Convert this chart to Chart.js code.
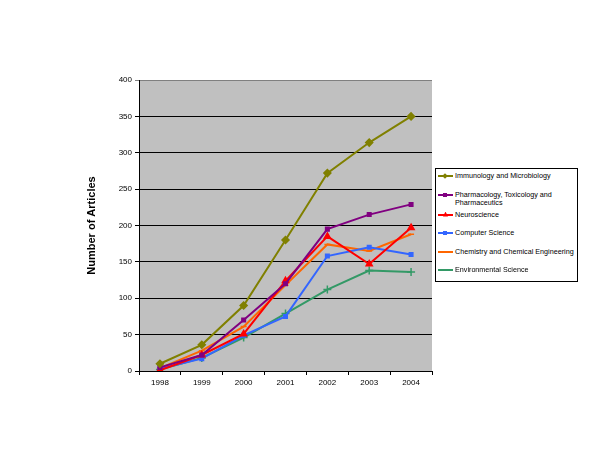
<!DOCTYPE html>
<html>
<head>
<meta charset="utf-8">
<script src="https://cdn.jsdelivr.net/npm/chart.js@4/dist/chart.umd.min.js"></script>
<style>
  body { margin: 0; background: #fff; }
  #wrap { position: relative; width: 600px; height: 450px; }
  #legend {
    position: absolute; left: 435px; top: 168px; width: 143px; height: 114px;
    border: 1px solid #000; background: #fff; box-sizing: border-box;
    font-family: Arial, "Liberation Sans", sans-serif; font-size: 7.2px; color: #000;
    padding-top: 3px;
  }
  .item { position: relative; padding-left: 19px; min-height: 18.5px; line-height: 8.5px; white-space: nowrap; }
  .item.wrap { white-space: normal; }
  .sample { position: absolute; left: 2px; top: 3px; width: 15px; height: 2px; }
  .mark { position: absolute; left: 5px; top: -2px; width: 5px; height: 5px; }
</style>
</head>
<body>
<div id="wrap">
  <canvas id="c" width="600" height="450"></canvas>
  <div id="legend"></div>
</div>
<script>
const years = ["1998", "1999", "2000", "2001", "2002", "2003", "2004"];

const immunology    = [10, 36, 90, 180, 272, 314, 350];
const pharmacology  = [5, 22, 70, 120, 195, 215, 229];
const neuroscience  = [1, 22, 51, 124, 185, 147, 197];
const computerSci   = [3, 17, 49, 75, 158, 170, 160];
const chemistry     = [4, 28, 61, 118, 174, 165, 188];
const environmental = [2, 18, 46, 79, 112, 138, 136];

const seriesNames = [
  "Immunology and Microbiology",
  "Pharmacology, Toxicology and Pharmaceutics",
  "Neuroscience",
  "Computer Science",
  "Chemistry and Chemical Engineering",
  "Environmental Science"
];
const seriesData = [immunology, pharmacology, neuroscience, computerSci, chemistry, environmental];
const colors = ["#808000", "#800080", "#FF0000", "#3366FF", "#FF6600", "#339966"];
const markers = ["rectRot", "rect", "triangle", "rect", "line", "cross"];
const markerSize = [3.5, 2.5, 3.5, 2.5, 3, 4];

const yTicks = [0, 50, 100, 150, 200, 250, 300, 350, 400];

const plotBg = {
  id: "plotBg",
  beforeDraw(chart) {
    const a = chart.chartArea, ctx = chart.ctx;
    ctx.save();
    ctx.fillStyle = "#C0C0C0";
    ctx.fillRect(a.left, a.top, a.right - a.left, a.bottom - a.top);
    ctx.restore();
  }
};

const font = { family: "Arial, 'Liberation Sans', sans-serif", size: 8 };

new Chart(document.getElementById("c"), {
  type: "line",
  data: {
    labels: years,
    datasets: seriesNames.map((name, i) => ({
      label: name,
      data: seriesData[i],
      borderColor: colors[i],
      backgroundColor: colors[i],
      borderWidth: 2,
      pointStyle: markers[i],
      pointRadius: markerSize[i],
      pointBorderWidth: 1.5,
      fill: false,
      tension: 0
    }))
  },
  options: {
    responsive: false,
    animation: false,
    layout: { padding: { left: 81, right: 168, top: 80, bottom: 0 } },
    plugins: { legend: { display: false }, tooltip: { enabled: false } },
    scales: {
      x: {
        offset: true,
        grid: { offset: true, drawOnChartArea: false, drawTicks: true, tickLength: 4, color: "#000" },
        border: { color: "#000", width: 1 },
        ticks: { color: "#000", font: font, padding: 3, maxRotation: 0 },
        afterFit(s) { s.height = 79; }
      },
      y: {
        min: 0, max: 400,
        afterBuildTicks(s) { s.ticks = yTicks.map(v => ({ value: v })); },
        grid: {
          color: ctx => ctx.tick && ctx.tick.value === 400 ? "#808080" : "#000",
          lineWidth: 1, tickLength: 4
        },
        border: { color: "#000", width: 1 },
        ticks: { color: "#000", font: font, padding: 3 },
        title: {
          display: true, text: "Number of Articles", color: "#000",
          font: { family: font.family, size: 11, weight: "bold" }, padding: 4
        },
        afterFit(s) { s.width = 58; }
      }
    }
  },
  plugins: [plotBg]
});

// HTML legend (wrapping text like the original)
const leg = document.getElementById("legend");
const markShape = {
  rectRot: "transform: rotate(45deg); width:4px; height:4px; top:-1px;",
  rect: "width:4px; height:4px; top:-1px;",
  triangle: "clip-path: polygon(50% 0, 100% 100%, 0 100%);",
  line: "height:2px; top:0px;",
  cross: "background: transparent;"
};
seriesNames.forEach((name, i) => {
  const d = document.createElement("div");
  d.className = i === 1 ? "item wrap" : "item";
  const extra = markShape[markers[i]];
  d.innerHTML = '<span class="sample" style="background:' + colors[i] + '">' +
    '<span class="mark" style="background:' + colors[i] + ';' + extra + '"></span></span>' + name;
  if (i === 1) d.style.minHeight = "20px";
  leg.appendChild(d);
});
</script>
</body>
</html>
